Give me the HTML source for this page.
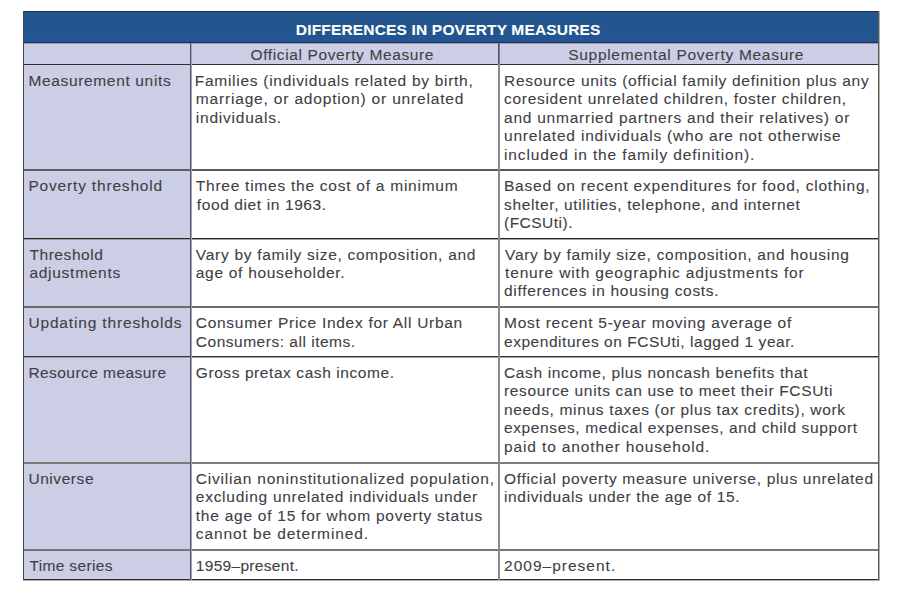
<!DOCTYPE html>
<html><head><meta charset="utf-8"><style>
html,body{margin:0;padding:0;background:#fff;}
body{width:911px;height:596px;position:relative;overflow:hidden;font-family:"Liberation Sans",sans-serif;}
.b{position:absolute;}
.t{position:absolute;white-space:nowrap;font-size:15.50px;line-height:18.60px;color:#404044;-webkit-text-stroke:0.1px #404044;}
.h{color:#fff;font-weight:bold;-webkit-text-stroke:0.1px #fff;}
</style></head><body>

<div class="b" style="left:23px;top:11px;width:857px;height:32px;background:#23558f"></div>
<div class="b" style="left:23px;top:43px;width:857px;height:21px;background:#cbcee4"></div>
<div class="b" style="left:23px;top:64px;width:167px;height:516px;background:#cbcee4"></div>
<div class="b" style="left:23px;top:64px;width:857px;height:1px;background:#2e2e38"></div>
<div class="b" style="left:23px;top:169px;width:857px;height:2px;background:#5c5c60"></div>
<div class="b" style="left:23px;top:238px;width:857px;height:1px;background:#2a2a2a"></div>
<div class="b" style="left:23px;top:239px;width:857px;height:1px;background:#a0a0a0"></div>
<div class="b" style="left:23px;top:306px;width:857px;height:2px;background:#6c6c6c"></div>
<div class="b" style="left:23px;top:356px;width:857px;height:1px;background:#363636"></div>
<div class="b" style="left:23px;top:357px;width:857px;height:1px;background:#a0a0a0"></div>
<div class="b" style="left:23px;top:462px;width:857px;height:2px;background:#7a7a7a"></div>
<div class="b" style="left:23px;top:549px;width:857px;height:2px;background:#767676"></div>
<div class="b" style="left:23px;top:579px;width:857px;height:1px;background:#2c2c2c"></div>
<div class="b" style="left:23px;top:580px;width:857px;height:1px;background:#b0b0b0"></div>
<div class="b" style="left:23px;top:39px;width:857px;height:2px;background:#1f56a0"></div>
<div class="b" style="left:23px;top:41px;width:857px;height:1px;background:#23508a"></div>
<div class="b" style="left:23px;top:42px;width:857px;height:1px;background:#26344f"></div>
<div class="b" style="left:23px;top:43px;width:857px;height:1px;background:#9a9eb4"></div>
<div class="b" style="left:23px;top:11px;width:857px;height:1px;background:#1b2f50"></div>
<div class="b" style="left:23px;top:11px;width:1px;height:569px;background:#45454d"></div>
<div class="b" style="left:190px;top:43px;width:1px;height:537px;background:#555a66"></div>
<div class="b" style="left:191px;top:43px;width:1px;height:537px;background:#a0a0aa"></div>
<div class="b" style="left:498px;top:43px;width:2px;height:537px;background:#8a8a8a"></div>
<div class="b" style="left:498px;top:43px;width:1px;height:21px;background:#50545f"></div>
<div class="b" style="left:499px;top:43px;width:1px;height:21px;background:#7a7e8a"></div>
<div class="b" style="left:878px;top:11px;width:1px;height:569px;background:#5a5a5a"></div>
<div class="b" style="left:879px;top:11px;width:1px;height:569px;background:#b0b0b0"></div>
<div class="t" style="left:28.40px;top:72.00px;letter-spacing:0.656px">Measurement units</div>
<div class="t" style="left:194.80px;top:72.00px;letter-spacing:0.718px">Families (individuals related by birth,</div>
<div class="t" style="left:195.80px;top:90.00px;letter-spacing:0.826px">marriage, or adoption) or unrelated</div>
<div class="t" style="left:195.80px;top:109.00px;letter-spacing:0.773px">individuals.</div>
<div class="t" style="left:504.00px;top:72.00px;letter-spacing:0.700px">Resource units (official family definition plus any</div>
<div class="t" style="left:504.00px;top:90.00px;letter-spacing:0.713px">coresident unrelated children, foster children,</div>
<div class="t" style="left:504.00px;top:109.00px;letter-spacing:0.764px">and unmarried partners and their relatives) or</div>
<div class="t" style="left:504.00px;top:127.00px;letter-spacing:0.795px">unrelated individuals (who are not otherwise</div>
<div class="t" style="left:504.00px;top:146.00px;letter-spacing:0.876px">included in the family definition).</div>
<div class="t" style="left:28.40px;top:177.00px;letter-spacing:0.825px">Poverty threshold</div>
<div class="t" style="left:195.80px;top:177.00px;letter-spacing:0.753px">Three times the cost of a minimum</div>
<div class="t" style="left:196.80px;top:196.00px;letter-spacing:0.612px">food diet in 1963.</div>
<div class="t" style="left:504.00px;top:177.00px;letter-spacing:0.777px">Based on recent expenditures for food, clothing,</div>
<div class="t" style="left:504.00px;top:196.00px;letter-spacing:0.643px">shelter, utilities, telephone, and internet</div>
<div class="t" style="left:504.00px;top:214.00px;letter-spacing:0.487px">(FCSUti).</div>
<div class="t" style="left:29.40px;top:246.00px;letter-spacing:0.575px">Threshold</div>
<div class="t" style="left:29.40px;top:264.00px;letter-spacing:0.730px">adjustments</div>
<div class="t" style="left:195.80px;top:246.00px;letter-spacing:0.717px">Vary by family size, composition, and</div>
<div class="t" style="left:195.80px;top:264.00px;letter-spacing:0.706px">age of householder.</div>
<div class="t" style="left:505.00px;top:246.00px;letter-spacing:0.714px">Vary by family size, composition, and housing</div>
<div class="t" style="left:505.00px;top:264.00px;letter-spacing:0.854px">tenure with geographic adjustments for</div>
<div class="t" style="left:504.00px;top:282.00px;letter-spacing:0.689px">differences in housing costs.</div>
<div class="t" style="left:28.40px;top:314.00px;letter-spacing:0.844px">Updating thresholds</div>
<div class="t" style="left:195.80px;top:314.00px;letter-spacing:0.712px">Consumer Price Index for All Urban</div>
<div class="t" style="left:195.80px;top:333.00px;letter-spacing:0.515px">Consumers: all items.</div>
<div class="t" style="left:504.00px;top:314.00px;letter-spacing:0.749px">Most recent 5-year moving average of</div>
<div class="t" style="left:504.00px;top:333.00px;letter-spacing:0.535px">expenditures on FCSUti, lagged 1 year.</div>
<div class="t" style="left:28.40px;top:364.00px;letter-spacing:0.447px">Resource measure</div>
<div class="t" style="left:195.80px;top:364.00px;letter-spacing:0.575px">Gross pretax cash income.</div>
<div class="t" style="left:504.00px;top:364.00px;letter-spacing:0.645px">Cash income, plus noncash benefits that</div>
<div class="t" style="left:504.00px;top:382.00px;letter-spacing:0.662px">resource units can use to meet their FCSUti</div>
<div class="t" style="left:504.00px;top:401.00px;letter-spacing:0.669px">needs, minus taxes (or plus tax credits), work</div>
<div class="t" style="left:504.00px;top:419.00px;letter-spacing:0.620px">expenses, medical expenses, and child support</div>
<div class="t" style="left:504.00px;top:438.00px;letter-spacing:0.872px">paid to another household.</div>
<div class="t" style="left:28.40px;top:470.00px;letter-spacing:0.571px">Universe</div>
<div class="t" style="left:195.80px;top:470.00px;letter-spacing:0.797px">Civilian noninstitutionalized population,</div>
<div class="t" style="left:195.80px;top:488.00px;letter-spacing:0.731px">excluding unrelated individuals under</div>
<div class="t" style="left:195.80px;top:507.00px;letter-spacing:0.750px">the age of 15 for whom poverty status</div>
<div class="t" style="left:195.80px;top:525.00px;letter-spacing:0.905px">cannot be determined.</div>
<div class="t" style="left:504.00px;top:470.00px;letter-spacing:0.694px">Official poverty measure universe, plus unrelated</div>
<div class="t" style="left:504.00px;top:488.00px;letter-spacing:0.648px">individuals under the age of 15.</div>
<div class="t" style="left:29.40px;top:557.00px;letter-spacing:0.360px">Time series</div>
<div class="t" style="left:195.80px;top:557.00px;letter-spacing:0.308px">1959–present.</div>
<div class="t" style="left:504.00px;top:557.00px;letter-spacing:1.008px">2009–present.</div>
<div class="t h" style="left:295.80px;top:21.00px;letter-spacing:0.173px">DIFFERENCES IN POVERTY MEASURES</div>
<div class="t" style="left:250.50px;top:46.00px;letter-spacing:0.626px">Official Poverty Measure</div>
<div class="t" style="left:568.20px;top:46.00px;letter-spacing:0.704px">Supplemental Poverty Measure</div>
</body></html>
